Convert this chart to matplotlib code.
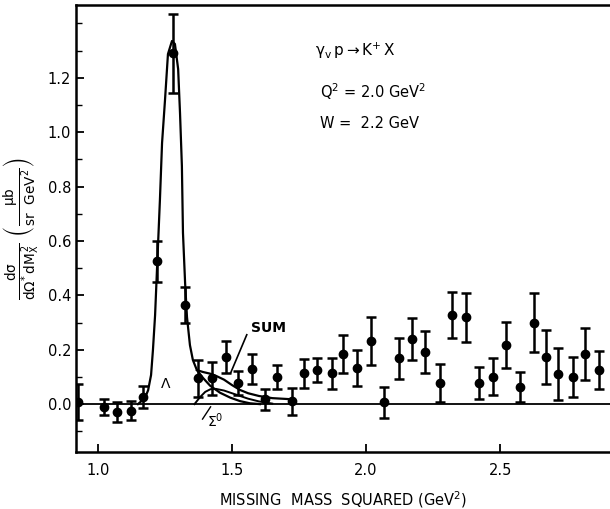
import matplotlib
matplotlib.use("Agg")
import matplotlib.pyplot as plt
from matplotlib.ticker import MultipleLocator

# --- data ---
mm2 = [0.925, 1.022, 1.071, 1.123, 1.168, 1.22, 1.28, 1.325, 1.373, 1.425,
       1.478, 1.522, 1.574, 1.623, 1.668, 1.724, 1.769, 1.817, 1.873, 1.914,
       1.966, 2.019, 2.067, 2.123, 2.172, 2.22, 2.276, 2.321, 2.373, 2.422,
       2.474, 2.522, 2.575, 2.627, 2.672, 2.716, 2.772, 2.817, 2.869]
xsec = [0.008, -0.011, -0.03, -0.025, 0.026, 0.525, 1.29, 0.364, 0.095, 0.095,
        0.173, 0.077, 0.128, 0.017, 0.1, 0.01, 0.114, 0.125, 0.114, 0.184,
        0.132, 0.232, 0.007, 0.168, 0.24, 0.19, 0.077, 0.327, 0.32, 0.077,
        0.1, 0.217, 0.062, 0.3, 0.173, 0.11, 0.1, 0.184, 0.125]
xsec_err = [0.066, 0.03, 0.037, 0.035, 0.04, 0.075, 0.145, 0.065, 0.067, 0.06,
            0.06, 0.045, 0.055, 0.04, 0.045, 0.05, 0.053, 0.045, 0.057, 0.07,
            0.067, 0.09, 0.057, 0.075, 0.077, 0.077, 0.07, 0.085, 0.09, 0.06,
            0.068, 0.085, 0.055, 0.11, 0.1, 0.095, 0.075, 0.095, 0.07]

# Lambda curve
lam_x = [1.149, 1.175, 1.187, 1.198, 1.205, 1.213, 1.220, 1.231, 1.239, 1.250,
         1.261, 1.276, 1.287, 1.299, 1.306, 1.313, 1.317, 1.325, 1.332, 1.343,
         1.354, 1.369, 1.392, 1.418, 1.455, 1.493, 1.530, 1.567, 1.604]
lam_y = [0.0, 0.022, 0.051, 0.107, 0.199, 0.327, 0.493, 0.75, 0.96, 1.118,
         1.287, 1.335, 1.324, 1.232, 1.07, 0.875, 0.63, 0.445, 0.32, 0.217,
         0.162, 0.125, 0.096, 0.068, 0.042, 0.024, 0.011, 0.003, 0.0]

# Sigma0 curve
sig_x = [1.36, 1.38, 1.40, 1.42, 1.44, 1.47, 1.50, 1.53, 1.56, 1.60, 1.65]
sig_y = [0.0, 0.025, 0.045, 0.055, 0.056, 0.05, 0.04, 0.03, 0.02, 0.01, 0.002]

# sum curve
sum_x = [1.369, 1.392, 1.418, 1.44, 1.47, 1.50, 1.53, 1.56, 1.60, 1.65, 1.72]
sum_y = [0.125, 0.118, 0.112, 0.104, 0.09, 0.07, 0.052, 0.04, 0.03, 0.022, 0.018]

plt.rcParams["mathtext.default"] = "regular"

fig = plt.figure(figsize=(6.1, 5.09), dpi=100)
ax = fig.add_axes([0.1246, 0.112, 0.8754, 0.878])

ax.axhline(0, color="black", lw=1.3, zorder=1)
ax.plot(lam_x, lam_y, color="black", lw=1.6)
ax.plot(sig_x, sig_y, color="black", lw=1.4)
ax.plot(sum_x, sum_y, color="black", lw=1.6)

ax.errorbar(mm2, xsec, yerr=xsec_err, fmt="o", color="black", ms=6,
            elinewidth=1.8, capsize=3.5, capthick=1.8, zorder=3)

# --- annotations ---
ax.text(1.232, 0.075, r"$\Lambda$", fontsize=10, ha="left", va="center")
ax.text(1.57, 0.28, "SUM", fontsize=10, fontweight="bold", ha="left", va="center")
ax.plot([1.555, 1.495], [0.255, 0.115], color="black", lw=1.2)
ax.text(1.405, -0.06, r"$\Sigma^0$", fontsize=10, ha="left", va="center")
ax.plot([1.39, 1.42], [-0.055, -0.01], color="black", lw=1.0)

ax.text(1.81, 1.30, r"$\gamma_v\, p \rightarrow K^{+}\, X$", fontsize=11, ha="left", va="center")
ax.text(1.83, 1.15, r"Q$^2$ = 2.0 GeV$^2$", fontsize=10.5, ha="left", va="center")
ax.text(1.83, 1.03, "W =  2.2 GeV", fontsize=10.5, ha="left", va="center")

# --- axes ---
ax.set_xlim(0.918, 2.91)
ax.set_ylim(-0.176, 1.467)
ax.set_xticks([1.0, 1.5, 2.0, 2.5])
ax.set_xticklabels(["1.0", "1.5", "2.0", "2.5"])
ax.set_yticks([0.0, 0.2, 0.4, 0.6, 0.8, 1.0, 1.2])
ax.set_yticklabels(["0.0", "0.2", "0.4", "0.6", "0.8", "1.0", "1.2"])
ax.yaxis.set_minor_locator(MultipleLocator(0.1))
ax.tick_params(axis="both", which="major", direction="in", length=6, width=1.3,
               labelsize=10.5)
ax.tick_params(axis="y", which="minor", direction="in", length=4, width=1.0)
ax.tick_params(axis="x", pad=8)
ax.spines["right"].set_visible(False)
for s in ["left", "bottom", "top"]:
    ax.spines[s].set_linewidth(1.8)

ax.set_xlabel(r"MISSING  MASS  SQUARED (GeV$^2$)", fontsize=10.5, labelpad=8)
ax.set_ylabel(r"$\frac{d\sigma}{d\Omega^{*}\, dM_X^{\,2}}\ \left(\frac{\mu b}{sr\ \ GeV^2}\right)$",
              fontsize=14, labelpad=4)

fig.savefig("out.png", dpi=100)
